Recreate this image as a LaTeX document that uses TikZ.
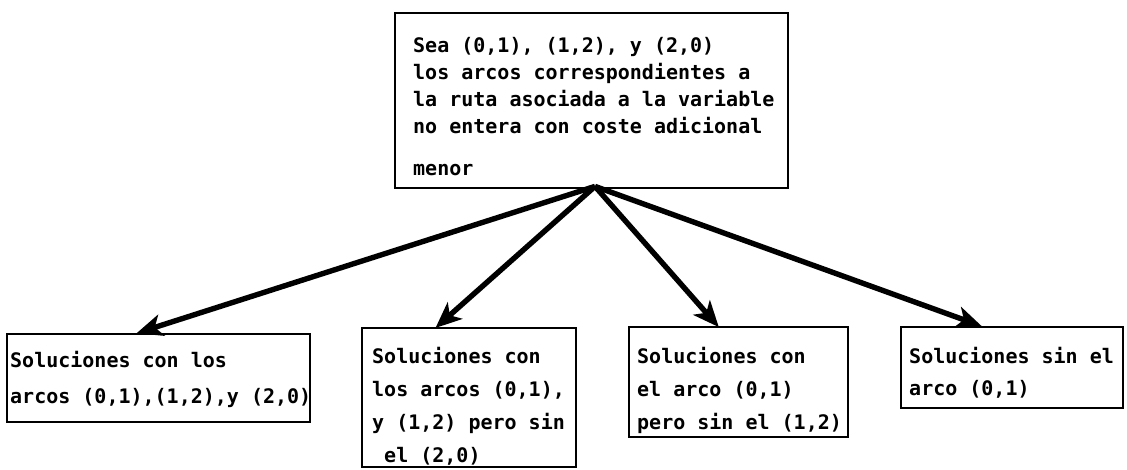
\documentclass[tikz,border=0pt]{standalone}
\usepackage{fontspec}
\setmonofont{DejaVu Sans Mono}
\usetikzlibrary{arrows.meta,calc}
\tikzset{
  box/.style={draw, line width=2.8pt, inner sep=0pt},
  txt/.style={inner sep=0pt, anchor=north west, align=left, font=\ttfamily\bfseries\fontsize{20}{27}\selectfont},
  conn/.style={line width=5.4pt, -{Stealth[length=26pt,width=22pt,inset=7pt]}, shorten >=-2pt}
}
\begin{document}
\begin{tikzpicture}[x=1pt,y=-1pt]
\useasboundingbox (0,0) rectangle (1127,470);
% boxes
\node[box, minimum width=393pt, minimum height=175pt] (top) at (591.5,100.5) {};
\node[box, minimum width=303pt, minimum height=88pt]  (b1) at (158.5,378) {};
\node[box, minimum width=214pt, minimum height=139pt] (b2) at (469,397.5) {};
\node[box, minimum width=219pt, minimum height=110pt] (b3) at (738.5,382) {};
\node[box, minimum width=222pt, minimum height=81pt]  (b4) at (1012,367.5) {};
% texts
\node[txt] (t0) at (413,37) {Sea (0,1), (1,2), y (2,0)\\los arcos correspondientes a\\la ruta asociada a la variable\\no entera con coste adicional\\[15pt]menor};
\node[txt, font=\ttfamily\bfseries\fontsize{20}{36}\selectfont] (t1) at (10,351) {Soluciones con los\\arcos (0,1),(1,2),y (2,0)};
\node[txt, font=\ttfamily\bfseries\fontsize{20}{33}\selectfont] (t2) at (372,347) {Soluciones con\\los arcos (0,1),\\y (1,2) pero sin\\~el (2,0)};
\node[txt, font=\ttfamily\bfseries\fontsize{20}{33}\selectfont] (t3) at (637,347) {Soluciones con\\el arco (0,1)\\pero sin el (1,2)};
\node[txt, font=\ttfamily\bfseries\fontsize{20}{32}\selectfont] (t4) at (909,347) {Soluciones sin el\\arco (0,1)};
% connectors
\coordinate (o) at ($(top.south)+(3.5,-3)$);
\draw[conn] (o) -- ($(b1.north)+(-20,0)$);
\draw[conn] (o) -- ($(b2.north)+(-32,0)$);
\draw[conn] (o) -- ($(b3.north)+(-21,0)$);
\draw[conn] (o) -- ($(b4.north)+(-32,0)$);
\end{tikzpicture}
\end{document}
